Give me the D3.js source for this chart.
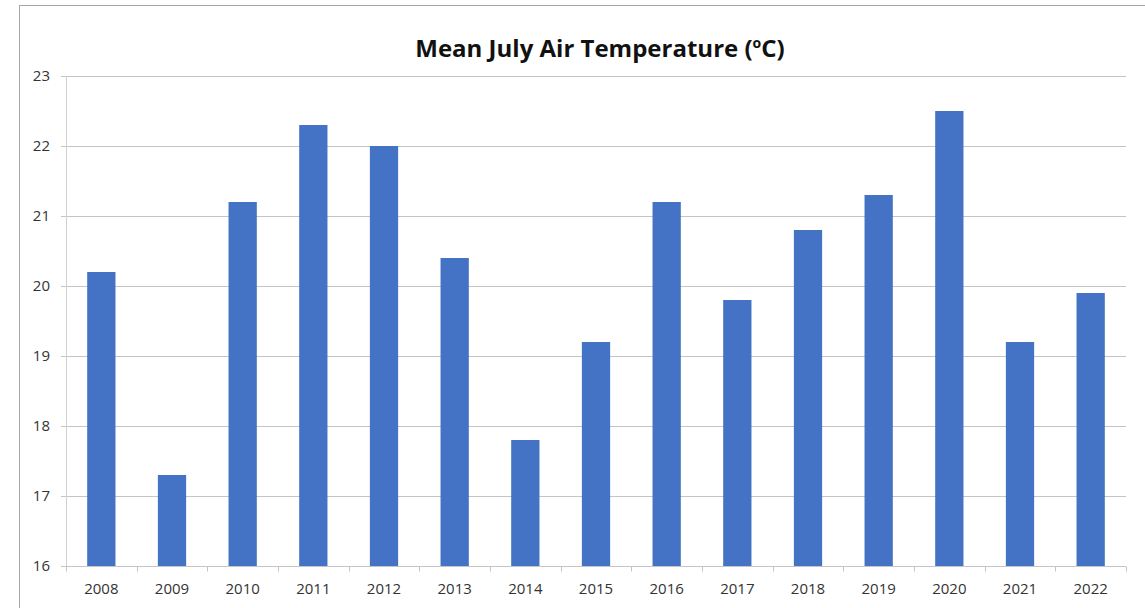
<!DOCTYPE html>
<html>
<head>
<meta charset="utf-8">
<script src="https://cdn.jsdelivr.net/npm/d3@7"></script>
<style>
  body { margin: 0; background: #fff; }
  svg { display: block; font-family: "Open Sans", "Liberation Sans", sans-serif; }
</style>
</head>
<body>
<svg id="chart"></svg>
<script>
// data
const years = ["2008", "2009", "2010", "2011", "2012", "2013", "2014", "2015",
               "2016", "2017", "2018", "2019", "2020", "2021", "2022"];
const temps = [20.2, 17.3, 21.2, 22.3, 22.0, 20.4, 17.8, 19.2,
               21.2, 19.8, 20.8, 21.3, 22.5, 19.2, 19.9];
const yTicks = [16, 17, 18, 19, 20, 21, 22, 23];

const width = 1145, height = 608;
const margin = {top: 76, right: 19, bottom: 42, left: 66};

const svg = d3.select("#chart")
    .attr("width", width)
    .attr("height", height);

// outer chart border (runs off the right/bottom edge in the reference)
svg.append("rect")
    .attr("x", 19.5).attr("y", 5.5)
    .attr("width", width).attr("height", height)
    .attr("fill", "none")
    .attr("stroke", "#a6a6a6");

const x = d3.scaleBand()
    .domain(years)
    .range([margin.left, width - margin.right])
    .paddingInner(0.6)
    .paddingOuter(0.3);

const y = d3.scaleLinear()
    .domain([16, 23])
    .range([height - margin.bottom, margin.top]);

// gridlines
svg.append("g")
    .selectAll("line")
    .data(yTicks)
    .enter()
    .append("line")
    .attr("x1", margin.left - 5)
    .attr("x2", width - margin.right)
    .attr("y1", d => Math.round(y(d)) + 0.5)
    .attr("y2", d => Math.round(y(d)) + 0.5)
    .attr("stroke", "#c4c4c4");

// y labels
svg.append("g")
    .selectAll("text")
    .data(yTicks)
    .enter()
    .append("text")
    .attr("x", 50)
    .attr("y", d => y(d) + 5)
    .attr("text-anchor", "end")
    .attr("font-size", 15)
    .attr("fill", "#333")
    .text(d => d);

// left axis line
svg.append("line")
    .attr("x1", margin.left + 0.5).attr("x2", margin.left + 0.5)
    .attr("y1", y(23)).attr("y2", y(16))
    .attr("stroke", "#d0d0d0");

// bars
svg.append("g")
    .selectAll("rect")
    .data(temps)
    .enter()
    .append("rect")
    .attr("x", (d, i) => x(years[i]))
    .attr("y", d => y(d))
    .attr("width", x.bandwidth())
    .attr("height", d => y(16) - y(d))
    .attr("fill", "#4472c4");

// x axis: baseline, category boundary ticks, labels
const step = x.step();
const xBottom = Math.round(y(16)) + 0.5;
svg.append("line")
    .attr("x1", margin.left).attr("x2", width - margin.right)
    .attr("y1", xBottom).attr("y2", xBottom)
    .attr("stroke", "#c4c4c4");

svg.append("g")
    .selectAll("line")
    .data(d3.range(years.length + 1))
    .enter()
    .append("line")
    .attr("x1", i => Math.round(margin.left + i * step) + 0.5)
    .attr("x2", i => Math.round(margin.left + i * step) + 0.5)
    .attr("y1", xBottom)
    .attr("y2", xBottom + 5)
    .attr("stroke", "#c4c4c4");

svg.append("g")
    .selectAll("text")
    .data(years)
    .enter()
    .append("text")
    .attr("x", d => x(d) + x.bandwidth() / 2)
    .attr("y", 594)
    .attr("text-anchor", "middle")
    .attr("font-size", 15)
    .attr("fill", "#333")
    .text(d => d);

// title with superscript o
const title = svg.append("text")
    .attr("x", 600)
    .attr("y", 57)
    .attr("text-anchor", "middle")
    .attr("font-size", 24)
    .attr("font-weight", "bold")
    .attr("fill", "#111");
title.append("tspan").text("Mean July Air Temperature (");
title.append("tspan").attr("font-size", 14).attr("dy", -9).text("o");
title.append("tspan").attr("dy", 9).text("C)");
</script>
</body>
</html>
